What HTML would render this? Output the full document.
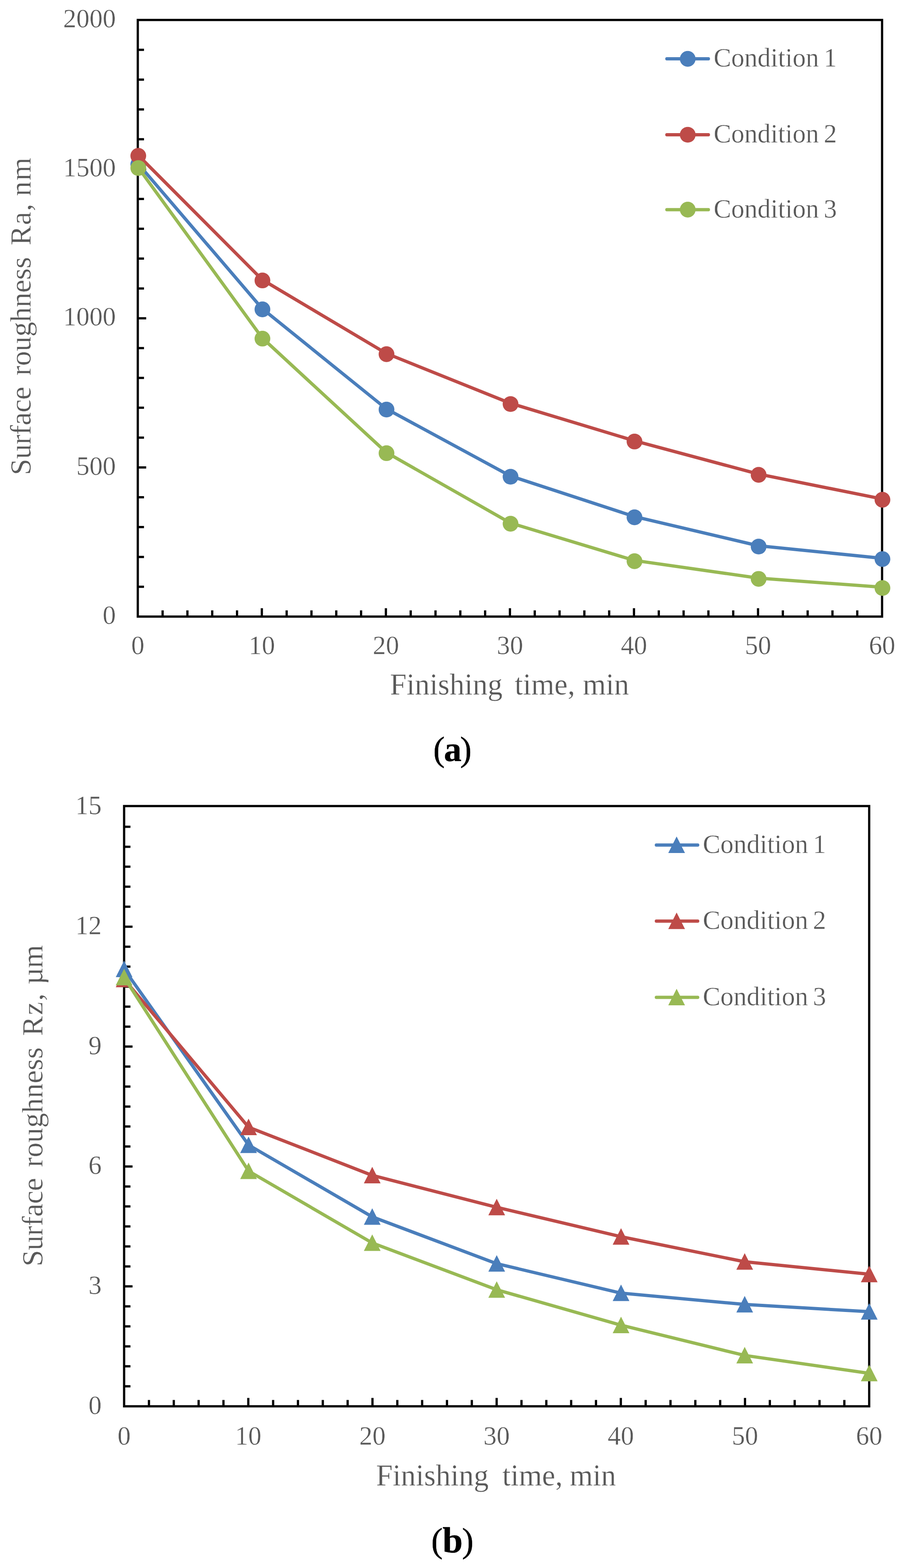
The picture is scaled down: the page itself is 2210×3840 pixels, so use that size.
<!DOCTYPE html>
<html lang="en">
<head>
<meta charset="utf-8">
<title>Surface roughness vs finishing time</title>
<style>
html,body{margin:0;padding:0;background:#fff;}
body{width:2210px;height:3840px;overflow:hidden;}
svg{display:block;font-family:'Liberation Serif', serif;fill:#595959;}
.t text{stroke:#fff;stroke-width:.5px;}
.t text[fill]{stroke:#000;stroke-width:.6px;}
text{white-space:pre;}
</style>
</head>
<body>
<svg width="2210" height="3840" viewBox="0 0 2210 3840">
<rect width="2210" height="3840" fill="#fff"/>
<g id="chart-a" class="t">
<path d="M337.6 1436.94h15.2M337.6 1363.89h15.2M337.6 1290.84h15.2M337.6 1217.78h15.2M337.6 1144.72h20.6M337.6 1071.67h15.2M337.6 998.62h15.2M337.6 925.56h15.2M337.6 852.5h15.2M337.6 779.45h20.6M337.6 706.4h15.2M337.6 633.34h15.2M337.6 560.29h15.2M337.6 487.23h15.2M337.6 414.17h20.6M337.6 341.12h15.2M337.6 268.07h15.2M337.6 195.01h15.2M337.6 121.96h15.2M398.39 1510v-15.2M459.17 1510v-15.2M519.96 1510v-15.2M580.75 1510v-15.2M641.53 1510v-20.6M702.32 1510v-15.2M763.11 1510v-15.2M823.89 1510v-15.2M884.68 1510v-15.2M945.47 1510v-20.6M1006.25 1510v-15.2M1067.04 1510v-15.2M1127.83 1510v-15.2M1188.61 1510v-15.2M1249.4 1510v-20.6M1310.19 1510v-15.2M1370.97 1510v-15.2M1431.76 1510v-15.2M1492.55 1510v-15.2M1553.33 1510v-20.6M1614.12 1510v-15.2M1674.91 1510v-15.2M1735.69 1510v-15.2M1796.48 1510v-15.2M1857.27 1510v-20.6M1918.05 1510v-15.2M1978.84 1510v-15.2M2039.63 1510v-15.2M2100.41 1510v-15.2" fill="none" stroke="#000" stroke-width="5.5"/>
<rect x="337.6" y="48.9" width="1823.6" height="1461.1" fill="none" stroke="#000" stroke-width="5.5"/>
<g font-size="64.5" text-anchor="end">
<text x="283.8" y="1527.9">0</text>
<text x="283.8" y="1162.62">500</text>
<text x="283.8" y="797.35">1000</text>
<text x="283.8" y="432.07">1500</text>
<text x="283.8" y="66.8">2000</text>
</g>
<g font-size="64.5" text-anchor="middle">
<text x="337.6" y="1602.2">0</text>
<text x="641.53" y="1602.2">10</text>
<text x="945.47" y="1602.2">20</text>
<text x="1249.4" y="1602.2">30</text>
<text x="1553.33" y="1602.2">40</text>
<text x="1857.27" y="1602.2">50</text>
<text x="2161.2" y="1602.2">60</text>
</g>
<text y="1701" font-size="73"><tspan x="955.41">Finishing</tspan><tspan x="1242.75"> time,</tspan><tspan x="1409.51"> min</tspan></text>
<text transform="translate(75.4 0) rotate(-90)" y="0" font-size="72.6"><tspan x="-1163.72" letter-spacing="-0.77">Surface</tspan><tspan x="-937.41" letter-spacing="-0.49"> roughness</tspan><tspan x="-620.91" letter-spacing="1.68"> Ra,</tspan><tspan x="-500.5" letter-spacing="1.94"> nm</tspan></text>
<g fill="#4a7ebb" stroke="#4a7ebb">
<polyline fill="none" stroke-width="8" stroke-linejoin="round" stroke-linecap="round" points="338,400.5 642.2,755.6 946.2,1001 1250.1,1165.5 1553.8,1264.9 1857.9,1336.5 2161.3,1367.2"/>
<g stroke="none">
<circle cx="338.8" cy="402.5" r="19.3"/>
<circle cx="643" cy="757.6" r="19.3"/>
<circle cx="947" cy="1003" r="19.3"/>
<circle cx="1250.9" cy="1167.5" r="19.3"/>
<circle cx="1554.6" cy="1266.9" r="19.3"/>
<circle cx="1858.7" cy="1338.5" r="19.3"/>
<circle cx="2162.1" cy="1369.2" r="19.3"/>
</g></g>
<g fill="#be4b48" stroke="#be4b48">
<polyline fill="none" stroke-width="8" stroke-linejoin="round" stroke-linecap="round" points="338,379.6 642.2,684.8 946.2,865.4 1250.1,987.5 1553.8,1079.3 1857.9,1160.9 2161.3,1221.9"/>
<g stroke="none">
<circle cx="338.8" cy="381.6" r="19.3"/>
<circle cx="643" cy="686.8" r="19.3"/>
<circle cx="947" cy="867.4" r="19.3"/>
<circle cx="1250.9" cy="989.5" r="19.3"/>
<circle cx="1554.6" cy="1081.3" r="19.3"/>
<circle cx="1858.7" cy="1162.9" r="19.3"/>
<circle cx="2162.1" cy="1223.9" r="19.3"/>
</g></g>
<g fill="#98b954" stroke="#98b954">
<polyline fill="none" stroke-width="8" stroke-linejoin="round" stroke-linecap="round" points="338,409.5 642.2,827.3 946.2,1107.8 1250.1,1280.6 1553.8,1372.4 1857.9,1415.7 2161.3,1438"/>
<g stroke="none">
<circle cx="338.8" cy="411.5" r="19.3"/>
<circle cx="643" cy="829.3" r="19.3"/>
<circle cx="947" cy="1109.8" r="19.3"/>
<circle cx="1250.9" cy="1282.6" r="19.3"/>
<circle cx="1554.6" cy="1374.4" r="19.3"/>
<circle cx="1858.7" cy="1417.7" r="19.3"/>
<circle cx="2162.1" cy="1440" r="19.3"/>
</g></g>
<g fill="#4a7ebb" stroke="#4a7ebb">
<path d="M1633.9 144.1H1735.6" stroke-width="8" stroke-linecap="round" fill="none"/>
<g stroke="none"><circle cx="1685" cy="144.1" r="19.3"/></g>
</g>
<text x="1748.5" y="163.3" font-size="64.5">Condition<tspan dx="-4.5"> 1</tspan></text>
<g fill="#be4b48" stroke="#be4b48">
<path d="M1633.9 330H1735.6" stroke-width="8" stroke-linecap="round" fill="none"/>
<g stroke="none"><circle cx="1685" cy="330" r="19.3"/></g>
</g>
<text x="1748.5" y="349.2" font-size="64.5">Condition<tspan dx="-4.5"> 2</tspan></text>
<g fill="#98b954" stroke="#98b954">
<path d="M1633.9 513.4H1735.6" stroke-width="8" stroke-linecap="round" fill="none"/>
<g stroke="none"><circle cx="1685" cy="513.4" r="19.3"/></g>
</g>
<text x="1748.5" y="532.6" font-size="64.5">Condition<tspan dx="-4.5"> 3</tspan></text>
<text fill="#000" stroke="#000" stroke-width="0.6" font-size="85" y="1863.2"><tspan x="1061.4">(</tspan><tspan x="1087.7" y="1864" font-size="86" font-weight="bold">a</tspan><tspan x="1127.3" y="1863.2">)</tspan></text>
</g>
<g id="chart-b" class="t">
<path d="M304.1 3395.06h15.5M304.1 3346.12h15.5M304.1 3297.18h15.5M304.1 3248.24h15.5M304.1 3199.3h15.5M304.1 3150.36h20.6M304.1 3101.42h15.5M304.1 3052.48h15.5M304.1 3003.54h15.5M304.1 2954.6h15.5M304.1 2905.66h15.5M304.1 2856.72h20.6M304.1 2807.78h15.5M304.1 2758.84h15.5M304.1 2709.9h15.5M304.1 2660.96h15.5M304.1 2612.02h15.5M304.1 2563.08h20.6M304.1 2514.14h15.5M304.1 2465.2h15.5M304.1 2416.26h15.5M304.1 2367.32h15.5M304.1 2318.38h15.5M304.1 2269.44h20.6M304.1 2220.5h15.5M304.1 2171.56h15.5M304.1 2122.62h15.5M304.1 2073.68h15.5M304.1 2024.74h15.5M364.95 3444v-15.5M425.8 3444v-15.5M486.65 3444v-15.5M547.5 3444v-15.5M608.35 3444v-20.6M669.2 3444v-15.5M730.05 3444v-15.5M790.9 3444v-15.5M851.75 3444v-15.5M912.6 3444v-20.6M973.45 3444v-15.5M1034.3 3444v-15.5M1095.15 3444v-15.5M1156 3444v-15.5M1216.85 3444v-20.6M1277.7 3444v-15.5M1338.55 3444v-15.5M1399.4 3444v-15.5M1460.25 3444v-15.5M1521.1 3444v-20.6M1581.95 3444v-15.5M1642.8 3444v-15.5M1703.65 3444v-15.5M1764.5 3444v-15.5M1825.35 3444v-20.6M1886.2 3444v-15.5M1947.05 3444v-15.5M2007.9 3444v-15.5M2068.75 3444v-15.5" fill="none" stroke="#000" stroke-width="5.5"/>
<rect x="304.1" y="1974" width="1825.5" height="1470" fill="none" stroke="#000" stroke-width="5.5"/>
<g font-size="64.5" text-anchor="end">
<text x="249" y="3462.5">0</text>
<text x="249" y="3168.86">3</text>
<text x="249" y="2875.22">6</text>
<text x="249" y="2581.58">9</text>
<text x="249" y="2287.94">12</text>
<text x="249" y="1994.3">15</text>
</g>
<g font-size="64.5" text-anchor="middle">
<text x="304.1" y="3538">0</text>
<text x="608.35" y="3538">10</text>
<text x="912.6" y="3538">20</text>
<text x="1216.85" y="3538">30</text>
<text x="1521.1" y="3538">40</text>
<text x="1825.35" y="3538">50</text>
<text x="2129.6" y="3538">60</text>
</g>
<text y="3637.8" font-size="73"><tspan x="921.46">Finishing</tspan><tspan x="1212.44"> time,</tspan><tspan x="1377.56"> min</tspan></text>
<text transform="translate(104.3 0) rotate(-90)" y="0" font-size="72.6"><tspan x="-3101.62" letter-spacing="-0.76">Surface</tspan><tspan x="-2876.51" letter-spacing="-0.09"> roughness</tspan><tspan x="-2557.96" letter-spacing="2.73"> Rz,</tspan><tspan x="-2427.98" letter-spacing="-1.44"> µm</tspan></text>
<g fill="#4a7ebb" stroke="#4a7ebb">
<polyline fill="none" stroke-width="8" stroke-linejoin="round" stroke-linecap="round" points="304.1,2373.5 609,2804.1 912,2980 1217,3094.7 1521.6,3166.8 1824.6,3194.6 2129.7,3212.3"/>
<g stroke="none">
<path d="M304.1 2352.55l20.5 40.5h-41z"/>
<path d="M609 2783.15l20.5 40.5h-41z"/>
<path d="M912 2959.05l20.5 40.5h-41z"/>
<path d="M1217 3073.75l20.5 40.5h-41z"/>
<path d="M1521.6 3145.85l20.5 40.5h-41z"/>
<path d="M1824.6 3173.65l20.5 40.5h-41z"/>
<path d="M2129.7 3191.35l20.5 40.5h-41z"/>
</g></g>
<g fill="#be4b48" stroke="#be4b48">
<polyline fill="none" stroke-width="8" stroke-linejoin="round" stroke-linecap="round" points="304.1,2398.2 609,2760.5 912,2878.4 1217,2956.7 1521.6,3028.7 1824.6,3090 2129.7,3120.6"/>
<g stroke="none">
<path d="M304.1 2377.25l20.5 40.5h-41z"/>
<path d="M609 2739.55l20.5 40.5h-41z"/>
<path d="M912 2857.45l20.5 40.5h-41z"/>
<path d="M1217 2935.75l20.5 40.5h-41z"/>
<path d="M1521.6 3007.75l20.5 40.5h-41z"/>
<path d="M1824.6 3069.05l20.5 40.5h-41z"/>
<path d="M2129.7 3099.65l20.5 40.5h-41z"/>
</g></g>
<g fill="#98b954" stroke="#98b954">
<polyline fill="none" stroke-width="8" stroke-linejoin="round" stroke-linecap="round" points="304.1,2393.4 609,2867.9 912,3043.9 1217,3158.6 1521.6,3245.4 1824.6,3319.4 2129.7,3363.3"/>
<g stroke="none">
<path d="M304.1 2372.45l20.5 40.5h-41z"/>
<path d="M609 2846.95l20.5 40.5h-41z"/>
<path d="M912 3022.95l20.5 40.5h-41z"/>
<path d="M1217 3137.65l20.5 40.5h-41z"/>
<path d="M1521.6 3224.45l20.5 40.5h-41z"/>
<path d="M1824.6 3298.45l20.5 40.5h-41z"/>
<path d="M2129.7 3342.35l20.5 40.5h-41z"/>
</g></g>
<g fill="#4a7ebb" stroke="#4a7ebb">
<path d="M1608.2 2069.5H1709.4" stroke-width="8" stroke-linecap="round" fill="none"/>
<g stroke="none"><path d="M1657.8 2048.55l20.5 40.5h-41z"/></g>
</g>
<text x="1722" y="2088.7" font-size="64.5">Condition<tspan dx="-4.5"> 1</tspan></text>
<g fill="#be4b48" stroke="#be4b48">
<path d="M1608.2 2255.7H1709.4" stroke-width="8" stroke-linecap="round" fill="none"/>
<g stroke="none"><path d="M1657.8 2234.75l20.5 40.5h-41z"/></g>
</g>
<text x="1722" y="2274.9" font-size="64.5">Condition<tspan dx="-4.5"> 2</tspan></text>
<g fill="#98b954" stroke="#98b954">
<path d="M1608.2 2442.4H1709.4" stroke-width="8" stroke-linecap="round" fill="none"/>
<g stroke="none"><path d="M1657.8 2421.45l20.5 40.5h-41z"/></g>
</g>
<text x="1722" y="2461.6" font-size="64.5">Condition<tspan dx="-4.5"> 3</tspan></text>
<text fill="#000" stroke="#000" stroke-width="0.6" font-size="85" y="3801"><tspan x="1056.6">(</tspan><tspan x="1084.2" y="3801.8" font-size="89" font-weight="bold">b</tspan><tspan x="1132.1" y="3801">)</tspan></text>
</g>
</svg>
</body>
</html>
